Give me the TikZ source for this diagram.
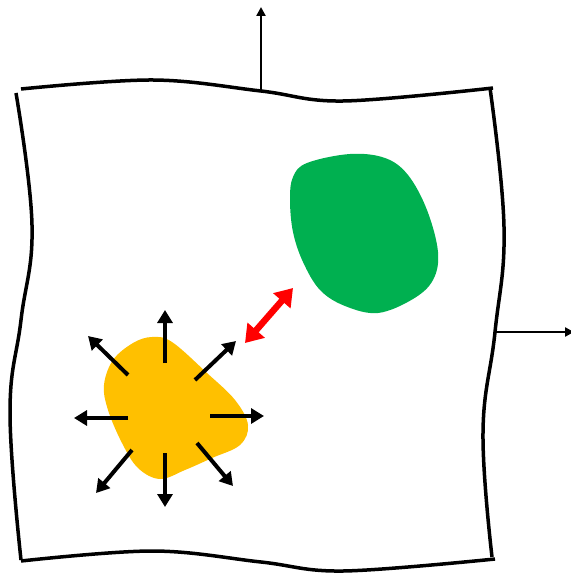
\documentclass[tikz,border=0pt]{standalone}
\usetikzlibrary{arrows.meta}
\definecolor{blobgreen}{HTML}{00B050}
\definecolor{bloborange}{HTML}{FFC000}
\definecolor{arrred}{HTML}{FF0000}
\tikzset{
  edge/.style={line width=3.5pt, line cap=butt},
  axisarrow/.style={line width=2.5pt, -{Triangle[length=9pt,width=9pt]}},
  rayarrow/.style={line width=4pt, -{Triangle[length=13pt,width=15pt]}},
  redarrow/.style={line width=6.5pt, arrred, {Triangle[length=17pt,width=22pt]}-{Triangle[length=17pt,width=22pt]}}
}
\begin{document}
\begin{tikzpicture}[x=1pt,y=-1pt]
\useasboundingbox (0,0) rectangle (570,575);
% membrane edges
\draw[edge] plot[smooth, tension=0.6] coordinates {(21,89) (153,80) (261,91) (343,101) (493,88)};
\draw[edge] plot[smooth, tension=0.6] coordinates {(21,561) (153,551) (261,562) (343,571) (495,559)};
\draw[edge] plot[smooth, tension=0.7] coordinates {(16,93) (32,225) (21,320) (10,413) (21,560)};
\draw[edge] plot[smooth, tension=0.7] coordinates {(490,88) (504,227) (495,332) (483,432) (492,557)};
% axis arrows
\coordinate (topbase) at (261,91);
\coordinate (toptip) at (261,7);
\coordinate (rightbase) at (495,332);
\coordinate (righttip) at (574,332);
\draw[axisarrow] (topbase) -- (toptip);
\draw[axisarrow] (rightbase) -- (righttip);
% green blob
\fill[blobgreen] plot[smooth cycle, tension=0.6] coordinates {(290,200) (293,177) (307,163) (350,154) (385,158) (408,175) (427,210) (438,252) (433,280) (413,299) (378,313) (345,306) (320,290) (303,262) (293,232)};
% orange blob
\fill[bloborange] plot[smooth cycle, tension=0.6] coordinates {(152,337) (172,342) (207,373) (235,400) (248,425) (240,445) (212,458) (185,470) (160,479) (138,468) (122,443) (108,410) (104,385) (113,360) (133,343)};
% radiating arrows
\coordinate (uS) at (165,363); \coordinate (uT) at (165,310);
\coordinate (dS) at (165,453); \coordinate (dT) at (165,507);
\coordinate (lS) at (128,418); \coordinate (lT) at (74,418);
\coordinate (rS) at (210,416); \coordinate (rT) at (264,416);
\coordinate (ulS) at (128,375); \coordinate (ulT) at (88,336);
\coordinate (urS) at (195,380); \coordinate (urT) at (236,341);
\coordinate (dlS) at (132,450); \coordinate (dlT) at (96,493);
\coordinate (drS) at (197,443); \coordinate (drT) at (233,486);
\foreach \n in {u,d,l,r,ul,ur,dl,dr}{\draw[rayarrow] (\n S) -- (\n T);}
% red double arrow
\coordinate (redA) at (245,343);
\coordinate (redB) at (293,288);
\draw[redarrow] (redA) -- (redB);
\end{tikzpicture}
\end{document}
